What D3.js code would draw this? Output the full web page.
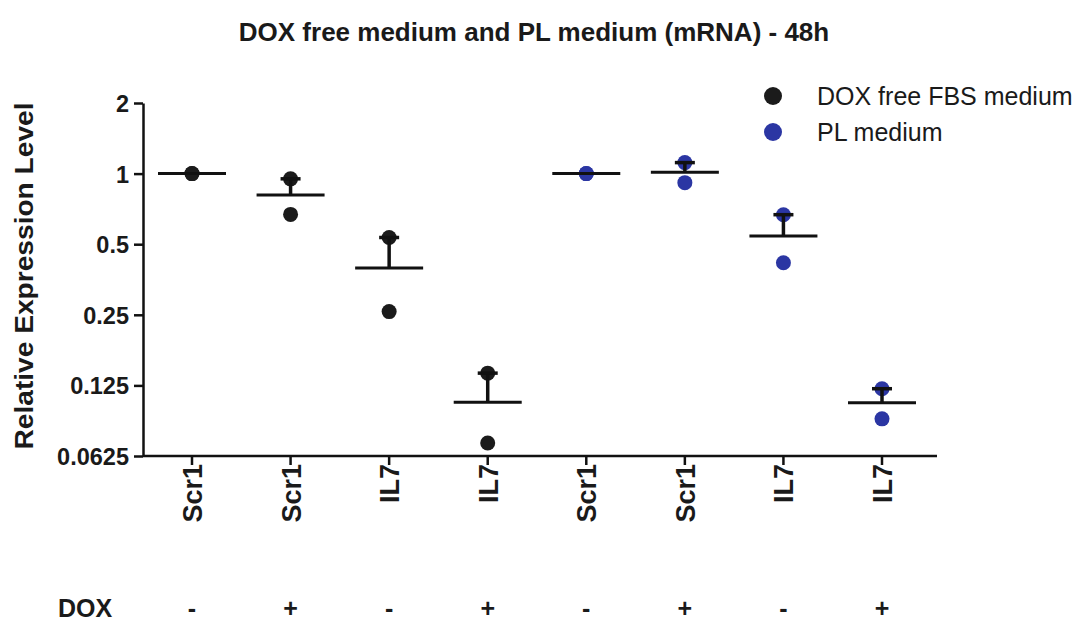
<!DOCTYPE html>
<html>
<head>
<meta charset="utf-8">
<script src="https://cdn.jsdelivr.net/npm/d3@7"></script>
<style>
  body { margin: 0; background: #fff; }
  text { font-family: "Liberation Sans", Arial, sans-serif; }
</style>
</head>
<body>
<div id="graph"></div>
<script>
// categories along the x axis (8 groups)
var categories = ['Scr1', 'Scr1', 'IL7', 'IL7', 'Scr1', 'Scr1', 'IL7', 'IL7'];
var doxRow = ['-', '+', '-', '+', '-', '+', '-', '+'];
// which series each group belongs to (0 = DOX free FBS, 1 = PL)
var groupSeries = [0, 0, 0, 0, 1, 1, 1, 1];
// the two replicates of each group
var replicates = [
    [1.0, 1.0],
    [0.95, 0.67],
    [0.534, 0.258],
    [0.141, 0.071],
    [1.0, 1.0],
    [1.114, 0.915],
    [0.668, 0.417],
    [0.121, 0.090]
];
var yTicks = [0.0625, 0.125, 0.25, 0.5, 1, 2];
var seriesNames = ['DOX free FBS medium', 'PL medium'];
var seriesColors = ['#1b1b1b', '#2b36a3'];

var width = 1083;
var height = 621;

var svg = d3.select('#graph')
    .append('svg')
    .attr('width', width)
    .attr('height', height);

var margin = {left: 143, top: 103, bottom: 165};

var x = d3.scalePoint()
    .domain(d3.range(categories.length))
    .range([192, 882]);

var y = d3.scaleLog()
    .base(2)
    .domain([0.0625, 2])
    .range([height - margin.bottom, margin.top]);

// title
svg.append('text')
    .attr('x', 534)
    .attr('y', 41)
    .attr('text-anchor', 'middle')
    .style('font-size', '26px')
    .style('font-weight', 'bold')
    .attr('fill', '#1a1a1a')
    .text('DOX free medium and PL medium (mRNA) - 48h');

// y axis
var yAxis = d3.axisLeft(y)
    .tickValues(yTicks)
    .tickFormat(function(d) { return String(d); })
    .tickSize(9)
    .tickSizeOuter(0);

var yg = svg.append('g')
    .attr('transform', 'translate(' + margin.left + ',0)')
    .call(yAxis);
yg.select('.domain').attr('stroke', '#111').attr('stroke-width', 2.5);
yg.selectAll('.tick line').attr('stroke', '#111').attr('stroke-width', 2.5);
yg.selectAll('.tick text')
    .attr('x', -14)
    .attr('dy', '0.36em')
    .attr('fill', '#1a1a1a')
    .style('font-size', '23.5px')
    .style('font-weight', 'bold')
    .style('font-family', '"Liberation Sans", Arial, sans-serif');

// y label
svg.append('text')
    .attr('transform', 'translate(33,276) rotate(-90)')
    .attr('text-anchor', 'middle')
    .attr('textLength', 347)
    .attr('lengthAdjust', 'spacingAndGlyphs')
    .style('font-size', '25px')
    .style('font-weight', 'bold')
    .attr('fill', '#1a1a1a')
    .text('Relative Expression Level');

// x axis
var xAxisY = y(0.0625);
svg.append('line')
    .attr('x1', margin.left).attr('x2', 937)
    .attr('y1', xAxisY).attr('y2', xAxisY)
    .attr('stroke', '#111').attr('stroke-width', 2.5);

var xg = svg.append('g')
    .selectAll('.xtick')
    .data(categories)
    .enter()
    .append('g')
    .attr('transform', function(d, i) { return 'translate(' + x(i) + ',' + xAxisY + ')'; });
xg.append('line')
    .attr('y1', 0).attr('y2', 9)
    .attr('stroke', '#111').attr('stroke-width', 2.5);
xg.append('text')
    .attr('transform', 'translate(10,8) rotate(-90)')
    .attr('text-anchor', 'end')
    .style('font-size', '27px')
    .style('font-weight', 'bold')
    .attr('fill', '#1a1a1a')
    .text(function(d) { return d; });

// DOX row
svg.append('text')
    .attr('x', 58)
    .attr('y', 617)
    .style('font-size', '25px')
    .style('font-weight', 'bold')
    .attr('fill', '#1a1a1a')
    .text('DOX');
svg.append('g')
    .selectAll('text')
    .data(doxRow)
    .enter()
    .append('text')
    .attr('x', function(d, i) { return x(i); })
    .attr('y', 617)
    .attr('text-anchor', 'middle')
    .style('font-size', '25px')
    .style('font-weight', 'bold')
    .attr('fill', '#1a1a1a')
    .text(function(d) { return d; });

// points, mean line, SEM (upper) bar
var groups = svg.append('g')
    .selectAll('.grp')
    .data(replicates)
    .enter()
    .append('g');

groups.each(function(vals, i) {
    var g = d3.select(this);
    var cx = x(i);
    var mean = d3.mean(vals);
    var sem = d3.deviation(vals) / Math.sqrt(vals.length);

    g.selectAll('circle')
        .data(vals)
        .enter()
        .append('circle')
        .attr('cx', cx)
        .attr('cy', function(d) { return y(d); })
        .attr('r', 7.5)
        .attr('fill', seriesColors[groupSeries[i]]);

    g.append('line')
        .attr('x1', cx - 34).attr('x2', cx + 34)
        .attr('y1', y(mean)).attr('y2', y(mean))
        .attr('stroke', '#111').attr('stroke-width', 3);

    if (sem > 0) {
        g.append('line')
            .attr('x1', cx).attr('x2', cx)
            .attr('y1', y(mean)).attr('y2', y(mean + sem))
            .attr('stroke', '#111').attr('stroke-width', 3.5);
        g.append('line')
            .attr('x1', cx - 10).attr('x2', cx + 10)
            .attr('y1', y(mean + sem)).attr('y2', y(mean + sem))
            .attr('stroke', '#111').attr('stroke-width', 3.5);
    }
});

// legend
var legend = svg.append('g')
    .selectAll('.leg')
    .data(seriesNames)
    .enter()
    .append('g')
    .attr('transform', function(d, i) { return 'translate(773,' + (96 + i * 36) + ')'; });
legend.append('circle')
    .attr('r', 9)
    .attr('fill', function(d, i) { return seriesColors[i]; });
legend.append('text')
    .attr('x', 44)
    .attr('y', 9)
    .style('font-size', '25px')
    .attr('fill', '#1a1a1a')
    .text(function(d) { return d; });
</script>
</body>
</html>
